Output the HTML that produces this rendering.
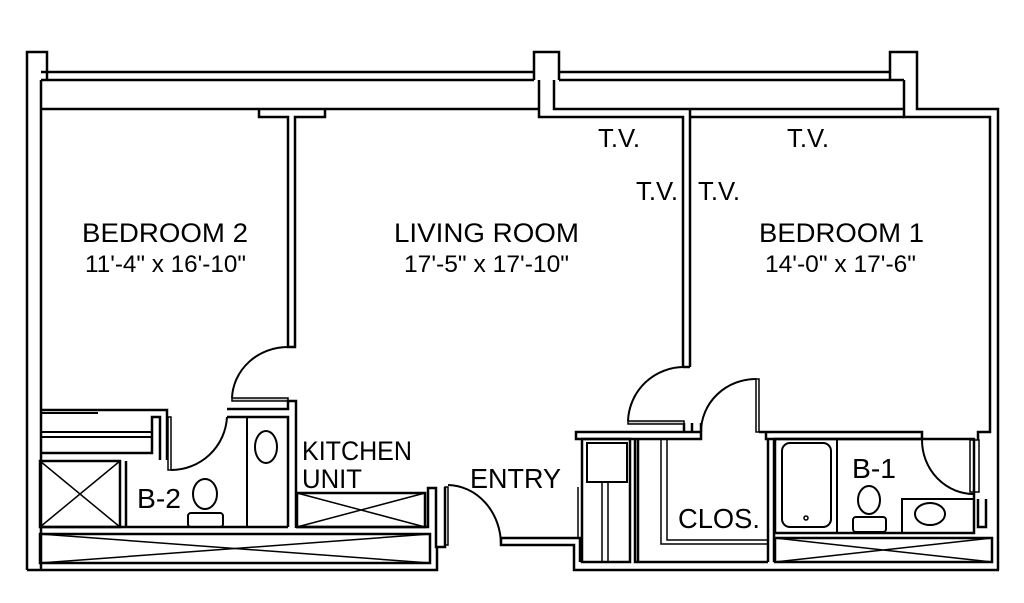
<!DOCTYPE html>
<html><head><meta charset="utf-8"><style>
html,body{margin:0;padding:0;background:#fff;}
svg{display:block;}
text{font-family:"Liberation Sans",sans-serif;fill:#000;}
</style></head><body>
<svg width="1024" height="603" viewBox="0 0 1024 603" xmlns="http://www.w3.org/2000/svg">
<g fill="none" stroke="#000" stroke-width="2.5" stroke-linejoin="miter">
<path d="M27 570 V52 H47 V80"/>
<path d="M41 570 V80"/>
<path d="M534 80 V52 H559 V80"/>
<path d="M890 80 V52 H917 V109 H998 V570"/>
<path d="M904 80 V117 H990 V432 H978 V440"/>
<path d="M41 72 H534 M559 72 H890 M41 80 H534 M559 80 H904"/>
<path d="M41 109 H539 M554 80 V109 H690 V367 M690 109 H904"/>
<path d="M539 80 V117 H683 V367 M690 117 H904"/>
<path d="M683 367 H690"/>
<path d="M259 109 V117 H288 V347 H295 V117 H325 V109"/>
<path d="M232 398 H288 V401 H232 Z" stroke-width="1.5" fill="#ccc"/>
<path d="M232 398 A56 53 0 0 1 288 347" stroke-width="2"/>
<path d="M227 409 H288 V401 H296 V528"/>
<path d="M227 417 H288 V527"/>
<path d="M40 410 H152 V410 H167 V460"/>
<path d="M40 453 H152 V417 H160 V460"/>
<path d="M40 432 H152 M40 437 H152 M40 413 H98" stroke-width="2"/>
<path d="M168 417 V470 H171 V417 Z" stroke-width="1.5"/>
<path d="M171 470 A56 56 0 0 0 227 417" stroke-width="2"/>
<rect x="40" y="461" width="80" height="66"/>
<path d="M40 461 L120 527 M120 461 L40 527" stroke-width="1.5"/>
<path d="M126 461 V527 M40 527 H288" />
<path d="M247 417 V527" stroke-width="2"/>
<ellipse cx="266" cy="447" rx="11" ry="16" stroke-width="2"/>
<ellipse cx="205" cy="494" rx="12" ry="15" stroke-width="2"/>
<rect x="188" y="513" width="35" height="14" rx="3" stroke-width="2"/>
<rect x="297" y="493" width="128" height="34"/>
<path d="M297 493 L425 527 M425 493 L297 527" stroke-width="1.5"/>
<path d="M296 527 H428 V488 H436 V547 H445 V487"/>
<path d="M445 487 V545 H448 V487 Z" stroke-width="1.5"/>
<rect x="40" y="534" width="390" height="29"/>
<path d="M40 534 L430 563 M430 534 L40 563" stroke-width="1.5"/>
<path d="M27 570 H437 V547"/>
<path d="M448 485 A54 60 0 0 1 501 545" stroke-width="2"/>
<path d="M501 538 H580 V562 M501 538 V545 H574 V570 H999"/>
<path d="M578 487 V538" stroke-width="1.5"/>
<path d="M576 432 H701 V439 H576 Z"/>
<rect x="582" y="439" width="48" height="123"/>
<rect x="587" y="443" width="40" height="39" stroke-width="2"/>
<path d="M602 482 V562 M608 482 V562" stroke-width="1.5"/>
<path d="M635 439 V562 H768 M638 439 V562" />
<path d="M661 439 V544 H768 M667 439 V540 H768" stroke-width="1.5"/>
<path d="M768 439 V562 M774 439 V562"/>
<path d="M692 423 V432 M701 423 V432 M684 423 V432"/>
<path d="M628 421 H684 V424 H628 Z" stroke-width="1.5" fill="#ccc"/>
<path d="M628 421 A56 56 0 0 1 684 367" stroke-width="2"/>
<path d="M756 379 V432 H759 V379 Z" stroke-width="1.5"/>
<path d="M701 432 A55 53 0 0 1 756 379" stroke-width="2"/>
<path d="M759 432 H922 V439 H766 V432"/>
<rect x="775" y="439" width="199" height="94"/>
<rect x="782" y="443" width="49" height="84" rx="8" stroke-width="2"/>
<circle cx="806" cy="518" r="2" stroke-width="1.5"/>
<path d="M837 439 V533" stroke-width="2"/>
<ellipse cx="869" cy="500" rx="11" ry="14" stroke-width="2"/>
<rect x="853" y="517" width="33" height="15" rx="3" stroke-width="2"/>
<rect x="902" y="499" width="72" height="34" stroke-width="2"/>
<ellipse cx="930" cy="514" rx="15" ry="11" stroke-width="2"/>
<path d="M970 440 V492 H979 V440 Z" stroke-width="1.5"/>
<path d="M922 440 A52 54 0 0 0 975 494" stroke-width="2"/>
<path d="M978 499 V527 H986 V499"/>
<rect x="775" y="538" width="217" height="24"/>
<path d="M775 538 L992 562 M992 538 L775 562" stroke-width="1.5"/>
</g>
<g>
<text x="82" y="242" font-size="27" textLength="166" lengthAdjust="spacingAndGlyphs">BEDROOM 2</text>
<text x="85" y="272" font-size="24" textLength="161" lengthAdjust="spacingAndGlyphs">11'-4" x 16'-10"</text>
<text x="394" y="242" font-size="27" textLength="185" lengthAdjust="spacingAndGlyphs">LIVING ROOM</text>
<text x="404" y="272" font-size="24" textLength="165" lengthAdjust="spacingAndGlyphs">17'-5" x 17'-10"</text>
<text x="759" y="242" font-size="27" textLength="165" lengthAdjust="spacingAndGlyphs">BEDROOM 1</text>
<text x="765" y="272" font-size="24" textLength="151" lengthAdjust="spacingAndGlyphs">14'-0" x 17'-6"</text>
<text x="598" y="147" font-size="26" textLength="42" lengthAdjust="spacingAndGlyphs">T.V.</text>
<text x="787" y="147" font-size="26" textLength="42" lengthAdjust="spacingAndGlyphs">T.V.</text>
<text x="636" y="200" font-size="26" textLength="42" lengthAdjust="spacingAndGlyphs">T.V.</text>
<text x="698" y="200" font-size="26" textLength="42" lengthAdjust="spacingAndGlyphs">T.V.</text>
<text x="302" y="460" font-size="27" textLength="110" lengthAdjust="spacingAndGlyphs">KITCHEN</text>
<text x="302" y="488" font-size="27" textLength="60" lengthAdjust="spacingAndGlyphs">UNIT</text>
<text x="470" y="488" font-size="28" textLength="91" lengthAdjust="spacingAndGlyphs">ENTRY</text>
<text x="137" y="508" font-size="28" textLength="44" lengthAdjust="spacingAndGlyphs">B-2</text>
<text x="678" y="528" font-size="28" textLength="82" lengthAdjust="spacingAndGlyphs">CLOS.</text>
<text x="852" y="478" font-size="28" textLength="44" lengthAdjust="spacingAndGlyphs">B-1</text>
</g>
</svg>
</body></html>
